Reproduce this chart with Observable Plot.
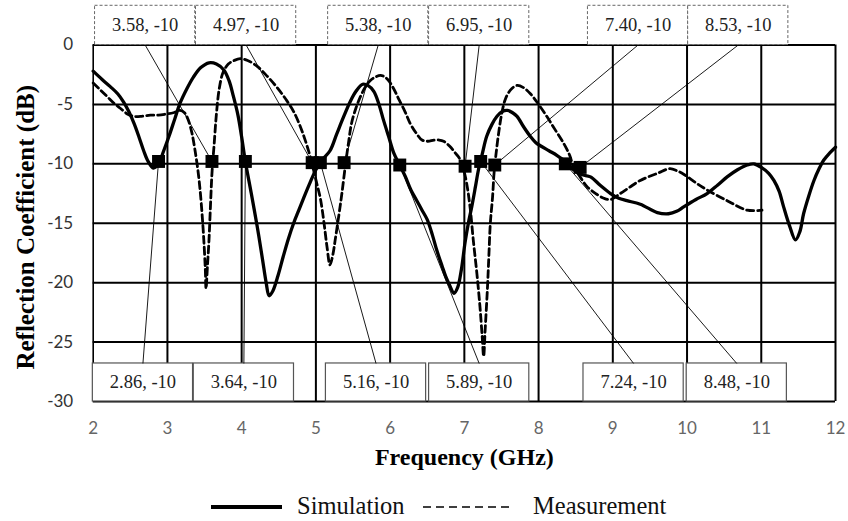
<!DOCTYPE html>
<html><head><meta charset="utf-8">
<script src="https://cdn.jsdelivr.net/npm/d3@7"></script>
<script src="https://cdn.jsdelivr.net/npm/@observablehq/plot@0.6"></script>
<style>
body{margin:0;background:#fff}
#wrap{position:relative;width:848px;height:521px;background:#fff}
</style>
</head><body><div id="wrap"></div>
<script>
// ---- data ----
const xTicks = [2,3,4,5,6,7,8,9,10,11,12];
const yTicks = [-30,-25,-20,-15,-10,-5,0];

const simFreq = [2.00,2.12,2.23,2.33,2.41,2.48,2.55,2.62,2.68,2.74,2.81,2.88,2.95,3.02,3.10,3.17,3.26,3.35,3.45,3.56,3.66,3.76,3.83,3.89,3.95,4.00,4.05,4.13,4.21,4.28,4.33,4.37,4.42,4.49,4.56,4.63,4.70,4.77,4.84,4.92,5.00,5.08,5.19,5.28,5.37,5.46,5.54,5.63,5.70,5.78,5.85,5.91,5.98,6.05,6.12,6.20,6.28,6.36,6.43,6.50,6.57,6.63,6.70,6.75,6.80,6.86,6.91,6.96,7.01,7.06,7.10,7.15,7.19,7.24,7.30,7.37,7.44,7.51,7.58,7.65,7.71,7.80,7.89,7.96,8.03,8.14,8.25,8.36,8.47,8.58,8.70,8.83,8.97,9.08,9.19,9.37,9.60,9.75,9.86,9.96,10.12,10.27,10.41,10.54,10.68,10.81,10.90,11.00,11.10,11.17,11.24,11.30,11.38,11.46,11.52,11.57,11.64,11.71,11.78,11.84,11.92,12.00];
const simDb = [-2.2,-2.9,-3.5,-4.1,-4.8,-5.6,-6.6,-7.8,-8.9,-9.8,-10.35,-10.0,-8.9,-7.7,-6.2,-4.9,-3.7,-2.7,-1.9,-1.5,-1.6,-2.1,-3.0,-4.35,-5.9,-7.75,-9.8,-12.5,-15.3,-18.0,-20.0,-21.1,-20.7,-19.4,-17.8,-16.3,-15.0,-13.9,-12.8,-11.6,-10.5,-9.7,-8.9,-7.5,-6.1,-4.8,-3.9,-3.3,-3.4,-3.9,-5.0,-6.3,-7.7,-9.1,-10.0,-11.0,-12.2,-13.1,-13.9,-14.7,-16.0,-17.3,-18.6,-19.5,-20.2,-20.9,-20.4,-18.9,-16.6,-14.8,-13.6,-11.9,-10.5,-9.2,-7.7,-6.7,-6.0,-5.6,-5.5,-5.7,-6.0,-6.9,-7.7,-8.2,-8.5,-8.9,-9.3,-9.8,-10.5,-10.9,-11.1,-11.8,-12.5,-12.9,-13.1,-13.4,-14.1,-14.2,-14.0,-13.6,-13.0,-12.5,-11.8,-11.1,-10.5,-10.1,-10.0,-10.3,-10.8,-11.4,-12.3,-13.6,-15.2,-16.4,-15.7,-14.2,-12.7,-11.4,-10.4,-9.7,-9.1,-8.6];

const measFreq = [2.00,2.10,2.19,2.28,2.36,2.46,2.54,2.65,2.77,2.88,2.99,3.08,3.17,3.23,3.28,3.33,3.37,3.41,3.44,3.47,3.49,3.51,3.52,3.54,3.56,3.58,3.60,3.63,3.66,3.70,3.75,3.82,3.90,3.98,4.08,4.21,4.34,4.48,4.61,4.70,4.78,4.85,4.91,4.96,5.01,5.06,5.11,5.15,5.19,5.23,5.26,5.31,5.35,5.40,5.44,5.48,5.54,5.60,5.66,5.73,5.80,5.87,5.93,5.98,6.05,6.12,6.20,6.27,6.35,6.43,6.51,6.59,6.66,6.72,6.80,6.88,6.94,6.99,7.03,7.08,7.12,7.17,7.21,7.24,7.26,7.28,7.31,7.33,7.35,7.38,7.40,7.43,7.46,7.50,7.55,7.62,7.71,7.80,7.89,8.00,8.11,8.22,8.34,8.42,8.47,8.56,8.65,8.77,8.88,8.97,9.10,9.22,9.37,9.60,9.77,9.87,9.96,10.12,10.27,10.54,10.81,11.01];
const measDb = [-3.2,-3.8,-4.35,-4.9,-5.3,-5.8,-6.0,-6.0,-5.9,-5.9,-5.8,-5.7,-5.5,-5.7,-6.3,-7.4,-8.8,-10.5,-12.2,-14.5,-16.4,-18.8,-20.5,-18.5,-16.4,-13.5,-10.8,-8.3,-5.8,-3.6,-2.3,-1.6,-1.3,-1.15,-1.3,-1.8,-2.6,-3.6,-4.7,-5.6,-6.7,-7.9,-9.1,-10.3,-11.6,-12.9,-15.0,-17.0,-18.5,-17.6,-16.4,-14.3,-12.5,-10.0,-8.2,-6.6,-5.3,-4.35,-3.6,-3.0,-2.7,-2.55,-2.7,-3.0,-3.7,-4.6,-5.6,-6.6,-7.4,-8.0,-8.1,-8.0,-8.0,-8.1,-8.5,-9.1,-9.6,-10.5,-11.6,-13.8,-16.4,-19.3,-22.0,-24.5,-26.2,-24.0,-20.6,-17.8,-15.0,-12.8,-10.8,-9.0,-7.5,-5.9,-4.6,-3.8,-3.4,-3.6,-4.1,-5.0,-6.0,-7.1,-8.3,-9.3,-10.25,-11.1,-11.9,-12.5,-12.9,-13.0,-12.5,-12.0,-11.4,-10.8,-10.4,-10.6,-10.9,-11.6,-12.2,-13.1,-13.9,-13.9];

const markerFreq = [2.88,3.60,4.05,4.95,5.06,5.38,6.13,7.01,7.22,7.41,8.36,8.56];
const markerDb   = [-9.8,-9.8,-9.8,-9.9,-9.9,-9.9,-10.1,-10.2,-9.8,-10.1,-10.0,-10.3];

const topLabels = ["3.58, -10","4.97, -10","5.38, -10","6.95, -10","7.40, -10","8.53, -10"];
const topLabelFreq = [2.70,4.06,5.84,7.20,9.34,10.69];
const topTarget = [1,3,5,7,9,11];
const bottomLabels = ["2.86, -10","3.64, -10","5.16, -10","5.89, -10","7.24, -10","8.48, -10"];
const bottomLabelFreq = [2.67,4.03,5.81,7.20,9.28,10.67];
const bottomTarget = [0,2,4,6,8,10];

// ---- build tables ----
const sim = simFreq.map((f,i)=>({f, db: simDb[i]}));
const meas = measFreq.map((f,i)=>({f, db: measDb[i]}));
const markers = markerFreq.map((f,i)=>({f, db: markerDb[i]}));
const HW = 0.675;            // half box width (GHz)
const TOP = [0, 3.3], BOT = [-30, -26.8];
const topBoxes = topLabels.map((t,i)=>({t, c: topLabelFreq[i], tgt: markers[topTarget[i]]}));
const botBoxes = bottomLabels.map((t,i)=>({t, c: bottomLabelFreq[i], tgt: markers[bottomTarget[i]]}));

const serif = "'Liberation Serif', 'Times New Roman', serif";
const sans = "Lato, 'Open Sans', sans-serif";
const fmt = d => String(d);

const chart = Plot.plot({
  width: 848, height: 475,
  marginTop: 44.5, marginBottom: 74, marginLeft: 92.7, marginRight: 13,
  style: {fontFamily: sans, background: "#fff"},
  x: {domain: [2, 12]},
  y: {domain: [-30, 0]},
  marks: [
    Plot.ruleX(xTicks.slice(1), {stroke: "#000", strokeWidth: 2}),
    Plot.ruleX([xTicks[0]], {stroke: "#000", strokeWidth: 1.6}),
    Plot.ruleY(yTicks, {stroke: "#000", strokeWidth: 2}),
    Plot.rect(topBoxes, {x1: d => d.c - HW, x2: d => d.c + HW, y1: TOP[0], y2: TOP[1], fill: "#fff", stroke: "#666", strokeWidth: 1, strokeDasharray: "3,2"}),
    Plot.rect(botBoxes, {x1: d => d.c - HW, x2: d => d.c + HW, y1: BOT[0], y2: BOT[1], fill: "#fff", stroke: "#555", strokeWidth: 1.2}),
    Plot.line(sim, {x: "f", y: "db", curve: "catmull-rom", stroke: "#000", strokeWidth: 3.3}),
    Plot.line(meas, {x: "f", y: "db", curve: "catmull-rom", stroke: "#000", strokeWidth: 2.8, strokeDasharray: "7,4"}),
    Plot.link(topBoxes, {x1: "c", y1: TOP[0], x2: d => d.tgt.f, y2: d => d.tgt.db, stroke: "#000", strokeWidth: 0.9}),
    Plot.link(botBoxes, {x1: "c", y1: BOT[1], x2: d => d.tgt.f, y2: d => d.tgt.db, stroke: "#000", strokeWidth: 0.9}),
    Plot.dot(markers, {x: "f", y: "db", symbol: "square", r: 7.3, fill: "#000", stroke: "none"}),
    Plot.text(topBoxes, {x: "c", y: (TOP[0]+TOP[1])/2, text: "t", fontFamily: serif, fontSize: 18.5, fill: "#222"}),
    Plot.text(botBoxes, {x: "c", y: (BOT[0]+BOT[1])/2, text: "t", fontFamily: serif, fontSize: 18.5, fill: "#222"}),
    Plot.axisX(xTicks, {tickSize: 0, tickPadding: 20, fontSize: 17, fontFamily: sans, color: "#666", label: null, tickFormat: fmt}),
    Plot.axisY(yTicks, {tickSize: 0, tickPadding: 20, fontSize: 17, fontFamily: sans, color: "#333", label: null, tickFormat: fmt}),
    Plot.text(["Frequency (GHz)"], {frameAnchor: "bottom", dy: 63, fontFamily: serif, fontWeight: "bold", fontSize: 24, fill: "#000"}),
    Plot.text(["Reflection Coefficient (dB)"], {frameAnchor: "left", textAnchor: "middle", lineAnchor: "middle", rotate: -90, dx: -67, dy: 4, fontFamily: serif, fontWeight: "bold", fontSize: 25, fill: "#000"})
  ]
});
const wrap = document.getElementById("wrap");
wrap.appendChild(chart);

// legend below the plot
const ns = "http://www.w3.org/2000/svg";
const leg = document.createElementNS(ns, "svg");
leg.setAttribute("width", 848); leg.setAttribute("height", 46);
leg.style.display = "block";
leg.innerHTML = `
  <line x1="211" x2="282" y1="32" y2="32" stroke="#000" stroke-width="4"/>
  <text x="297" y="38.5" font-family="${serif}" font-size="24.5" fill="#111">Simulation</text>
  <line x1="423" x2="512" y1="32" y2="32" stroke="#000" stroke-width="1.4" stroke-dasharray="8,5"/>
  <text x="533" y="38.5" font-family="${serif}" font-size="24.5" fill="#111">Measurement</text>`;
wrap.appendChild(leg);
</script>
</body></html>
